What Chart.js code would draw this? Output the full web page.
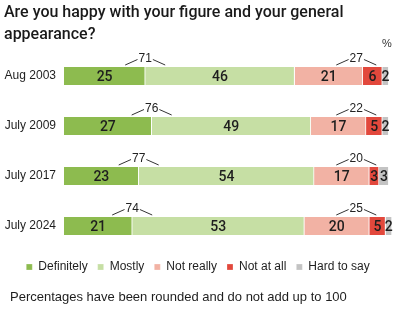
<!DOCTYPE html>
<html>
<head>
<meta charset="utf-8">
<script src="https://cdn.jsdelivr.net/npm/chart.js@4.4.1/dist/chart.umd.min.js"></script>
<style>
  html, body { margin: 0; padding: 0; background: #fff; }
  #wrap { width: 397px; height: 321px; }
</style>
</head>
<body>
<div id="wrap"><canvas id="c"></canvas></div>
<script>
// Survey waves and answer shares, %
const categories = ['Aug 2003', 'July 2009', 'July 2017', 'July 2024'];
const definitely = [25, 27, 23, 21];
const mostly     = [46, 49, 54, 53];
const notReally  = [21, 17, 17, 20];
const notAtAll   = [6, 5, 3, 5];
const hardToSay  = [2, 2, 3, 2];
// Combined totals shown above the bars
const happyTotals   = [71, 76, 77, 74];
const unhappyTotals = [27, 22, 20, 25];

const seriesNames  = ['Definitely', 'Mostly', 'Not really', 'Not at all', 'Hard to say'];
const seriesValues = [definitely, mostly, notReally, notAtAll, hardToSay];
const seriesColors = ['#8dbb4f', '#c6dfa4', '#f2b2a4', '#e2483c', '#c3c3c3'];

const footnote = 'Percentages have been rounded and do not add up to 100';
const UNHAPPY_ANCHOR = 90; // x value the "not happy" bracket is centred on

function drawBracket(ctx, cx, top, value) {
  const ly = top - 8;
  ctx.font = '12px "Liberation Sans", Arial, sans-serif';
  ctx.fillStyle = '#222';
  ctx.textAlign = 'center';
  ctx.textBaseline = 'middle';
  const w = ctx.measureText(String(value)).width;
  ctx.fillText(String(value), cx, ly);
  ctx.strokeStyle = '#333';
  ctx.lineWidth = 1;
  ctx.beginPath();
  ctx.moveTo(cx - w / 2 - 1, ly + 0.5);
  ctx.lineTo(cx - 20, top - 2);
  ctx.moveTo(cx + w / 2 + 1, ly + 0.5);
  ctx.lineTo(cx + 20, top - 2);
  ctx.stroke();
}

const barAnnotations = {
  id: 'barAnnotations',
  afterDatasetsDraw(chart) {
    const ctx = chart.ctx;
    const xs = chart.scales.x;
    ctx.save();
    // value inside each segment
    ctx.font = '500 14px Roboto, sans-serif';
    ctx.fillStyle = '#1e1e1e';
    ctx.textAlign = 'center';
    ctx.textBaseline = 'middle';
    chart.data.datasets.forEach((ds, di) => {
      chart.getDatasetMeta(di).data.forEach((bar, i) => {
        const p = bar.getProps(['x', 'y', 'base'], true);
        ctx.fillText(String(ds.data[i]), (p.x + p.base) / 2, p.y + 1);
      });
    });
    // totals brackets
    chart.getDatasetMeta(0).data.forEach((bar, i) => {
      const p = bar.getProps(['y', 'height'], true);
      const top = p.y - p.height / 2;
      drawBracket(ctx, xs.getPixelForValue(definitely[i]), top, happyTotals[i]);
      drawBracket(ctx, xs.getPixelForValue(UNHAPPY_ANCHOR), top, unhappyTotals[i]);
    });
    // unit marker
    ctx.font = '11px "Liberation Sans", Arial, sans-serif';
    ctx.fillStyle = '#333';
    ctx.textAlign = 'center';
    ctx.fillText('%', chart.chartArea.right - 5, chart.chartArea.top - 7);
    ctx.restore();
  },
  afterDraw(chart) {
    // footnote below the legend
    const ctx = chart.ctx;
    ctx.save();
    ctx.font = '13px "Liberation Sans", Arial, sans-serif';
    ctx.fillStyle = '#1e1e1e';
    ctx.textAlign = 'left';
    ctx.textBaseline = 'middle';
    ctx.fillText(footnote, 10, chart.height - 24);
    ctx.restore();
  }
};

new Chart(document.getElementById('c'), {
  type: 'bar',
  data: {
    labels: categories,
    datasets: seriesNames.map((name, k) => ({
      label: name,
      data: seriesValues[k],
      backgroundColor: seriesColors[k],
      borderColor: '#ffffff',
      borderWidth: { right: 1 },
      borderSkipped: false,
      barThickness: 18
    }))
  },
  options: {
    indexAxis: 'y',
    responsive: true,
    maintainAspectRatio: false,
    devicePixelRatio: 1,
    animation: false,
    layout: { padding: { left: 4, right: 5, top: 0, bottom: 38 } },
    scales: {
      x: { stacked: true, min: 0, max: 101, display: false },
      y: {
        stacked: true,
        grid: { display: false, drawTicks: false },
        border: { display: false },
        ticks: {
          color: '#1e1e1e',
          padding: 8,
          font: { family: '"Liberation Sans", Arial, sans-serif', size: 12 }
        },
        afterFit(scale) { scale.width = 60; }
      }
    },
    plugins: {
      title: {
        display: true,
        text: ['Are you happy with your figure and your general', 'appearance?'],
        align: 'start',
        color: '#1a1a1a',
        font: { family: 'Roboto, sans-serif', size: 16, weight: '500', lineHeight: 22 / 16 },
        padding: { top: 2, bottom: 5 }
      },
      legend: {
        position: 'bottom',
        labels: {
          color: '#1e1e1e',
          boxWidth: 6,
          boxHeight: 6,
          padding: 10,
          font: { family: '"Liberation Sans", Arial, sans-serif', size: 12 }
        }
      },
      tooltip: { enabled: false }
    }
  },
  plugins: [barAnnotations]
});
</script>
</body>
</html>
